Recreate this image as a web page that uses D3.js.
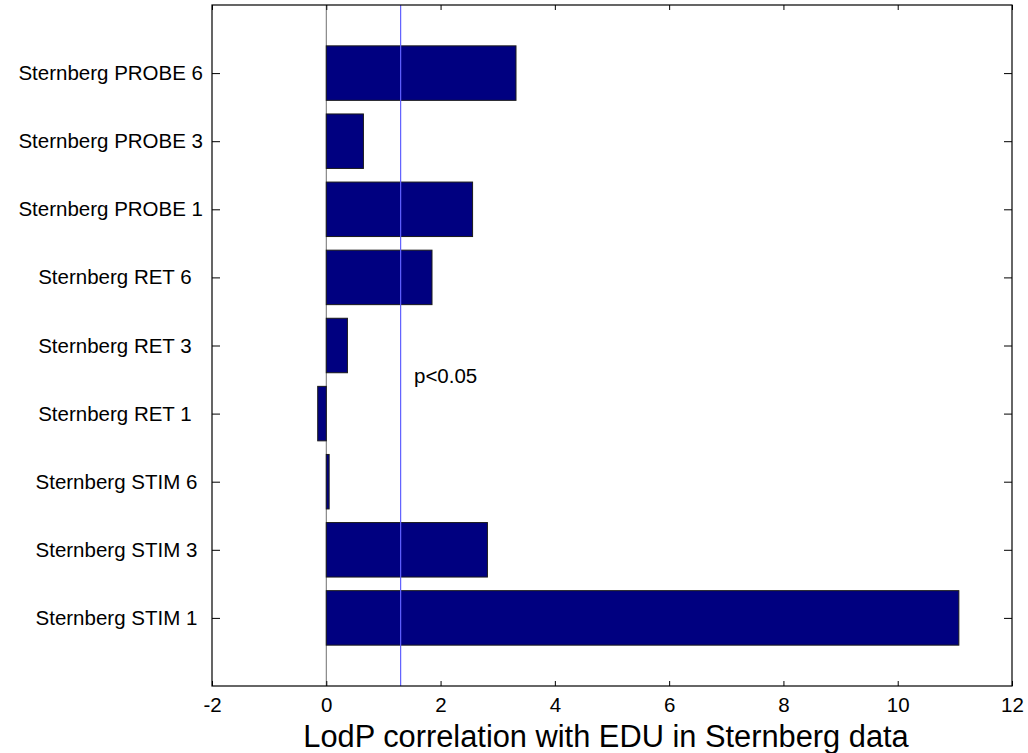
<!DOCTYPE html>
<html>
<head>
<meta charset="utf-8">
<script src="https://cdn.jsdelivr.net/npm/d3@7"></script>
<style>
  body { margin: 0; background: #fff; }
  text { font-family: Arial, "Liberation Sans", sans-serif; fill: #000; }
</style>
</head>
<body>
<svg id="chart" width="1028" height="753"></svg>
<script>
// category labels, bottom to top (MATLAB padded them with spaces)
var labels = ["Sternberg STIM 1 ", "Sternberg STIM 3 ", "Sternberg STIM 6 ",
              "Sternberg RET 1  ", "Sternberg RET 3  ", "Sternberg RET 6  ",
              "Sternberg PROBE 1", "Sternberg PROBE 3", "Sternberg PROBE 6"];
var lodp = [11.07, 2.82, 0.05, -0.15, 0.37, 1.85, 2.56, 0.65, 3.32];
var xTicks = [-2, 0, 2, 4, 6, 8, 10, 12];
var threshold = -Math.log10(0.05);

var svg = d3.select("#chart");
var plotL = 212, plotR = 1012, plotT = 5, plotB = 686;

var x = d3.scaleLinear().domain([-2, 12]).range([plotL, plotR]);
var y = d3.scaleLinear().domain([0, 10]).range([plotB, plotT]);
var barH = y(0) - y(0.8);

// baseline at zero
svg.append("line")
    .attr("x1", x(0)).attr("x2", x(0))
    .attr("y1", plotT).attr("y2", plotB)
    .style("stroke", "#707070")
    .style("stroke-width", 1);

// bars
svg.append("g").selectAll("rect")
    .data(lodp)
    .enter().append("rect")
    .attr("x", function(d){ return x(Math.min(0, d)); })
    .attr("y", function(d, i){ return y(i + 1) - barH / 2; })
    .attr("width", function(d){ return Math.abs(x(d) - x(0)); })
    .attr("height", barH)
    .style("fill", "#000080")
    .style("stroke", "#1a1a1a")
    .style("stroke-width", 1);

// significance line
svg.append("line")
    .attr("x1", x(threshold)).attr("x2", x(threshold))
    .attr("y1", plotT).attr("y2", plotB)
    .style("stroke", "#6060ff")
    .style("stroke-width", 1.2);

svg.append("text")
    .attr("x", 414).attr("y", 383)
    .style("font-size", "20.5px")
    .text("p<0.05");

// axis box
svg.append("rect")
    .attr("x", plotL).attr("y", plotT)
    .attr("width", plotR - plotL).attr("height", plotB - plotT)
    .style("fill", "none")
    .style("stroke", "#000")
    .style("stroke-width", 1.2);

// x axes (bottom with labels, top ticks only), inward ticks
var xAxisB = d3.axisBottom(x).tickValues(xTicks).tickSize(-5).tickPadding(14)
    .tickFormat(function(d){ return String(d); });
var gxb = svg.append("g").attr("transform", "translate(0," + plotB + ")").call(xAxisB);
var xAxisT = d3.axisTop(x).tickValues(xTicks).tickSize(-5).tickFormat("");
var gxt = svg.append("g").attr("transform", "translate(0," + plotT + ")").call(xAxisT);

// y axes (left with labels, right ticks only)
var yTicks = d3.range(1, labels.length + 1);
var yAxisL = d3.axisLeft(y).tickValues(yTicks).tickSize(-8).tickPadding(9)
    .tickFormat(function(d){ return labels[d - 1]; });
var gyl = svg.append("g").attr("transform", "translate(" + plotL + ",0)").call(yAxisL);
var yAxisR = d3.axisRight(y).tickValues(yTicks).tickSize(-8).tickFormat("");
var gyr = svg.append("g").attr("transform", "translate(" + plotR + ",0)").call(yAxisR);

[gxb, gxt, gyl, gyr].forEach(function(g){
  g.select(".domain").remove();
  g.selectAll(".tick line").style("stroke", "#000");
  g.selectAll("text").style("font-size", "20.5px")
    .style("font-family", "Arial, 'Liberation Sans', sans-serif")
    .style("white-space", "pre");
});
gxb.selectAll("text").attr("dy", "0.71em").attr("y", 11);

svg.append("text")
    .attr("x", (301 + 911) / 2).attr("y", 747)
    .attr("text-anchor", "middle")
    .style("font-size", "30.8px")
    .text("LodP correlation with EDU in Sternberg data");
</script>
</body>
</html>
